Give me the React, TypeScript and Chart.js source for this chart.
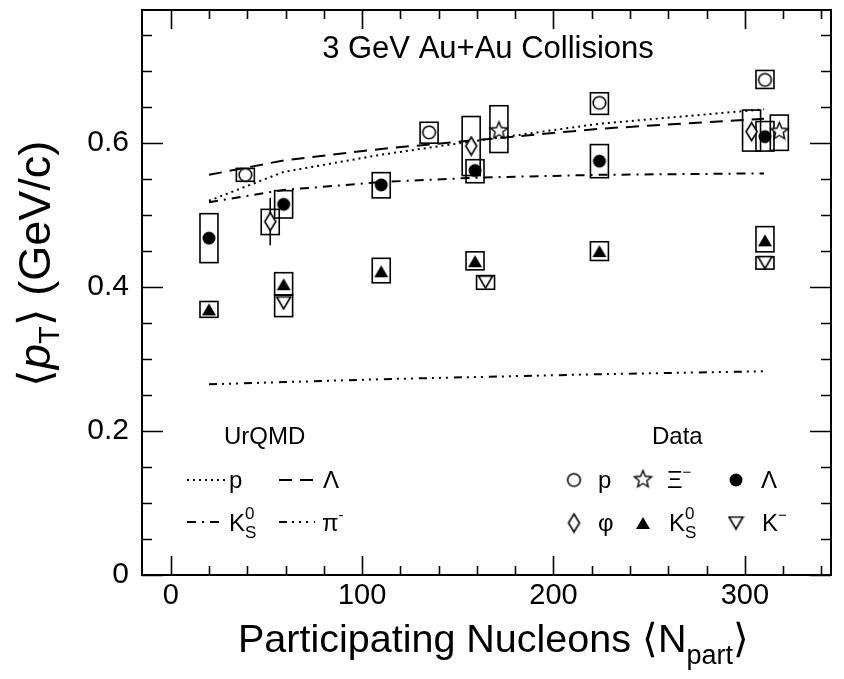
import React, { useEffect, useRef } from 'react';
import { Chart, registerables } from 'chart.js';
Chart.register(...registerables);

// ---------- axes ----------
const X_MIN = -15;
const X_MAX = 345;
const Y_MIN = 0;
const Y_MAX = 0.785;
const X_TICKS = [0, 100, 200, 300];
const Y_TICKS = [0, 0.2, 0.4, 0.6];
const X_MINOR_STEP = 20;
const Y_MINOR_STEP = 0.05;

// ---------- UrQMD curves ----------
const URQMD_NPART = [20, 59, 110, 159, 224, 310];
const URQMD_P = [0.52, 0.56, 0.584, 0.603, 0.627, 0.647];
const URQMD_LAMBDA = [0.556, 0.576, 0.592, 0.604, 0.62, 0.634];
const URQMD_K0S = [0.518, 0.535, 0.546, 0.552, 0.556, 0.558];
const URQMD_PIM = [0.265, 0.268, 0.272, 0.275, 0.279, 0.283];

// ---------- data ----------
const P_NPART = [39, 135, 224, 310.5];
const P_MEAN = [0.556, 0.615, 0.656, 0.688];
const P_SYS_LO = [0.547, 0.6, 0.64, 0.676];
const P_SYS_HI = [0.565, 0.629, 0.67, 0.701];

const LAMBDA_NPART = [20, 59, 110, 159, 224, 310.5];
const LAMBDA_MEAN = [0.468, 0.515, 0.542, 0.562, 0.575, 0.609];
const LAMBDA_SYS_LO = [0.434, 0.496, 0.524, 0.545, 0.552, 0.589];
const LAMBDA_SYS_HI = [0.502, 0.534, 0.559, 0.577, 0.598, 0.63];

const K0S_NPART = [20, 59, 110, 159, 224, 310.5];
const K0S_MEAN = [0.369, 0.404, 0.422, 0.436, 0.45, 0.465];
const K0S_SYS_LO = [0.358, 0.389, 0.406, 0.424, 0.437, 0.449];
const K0S_SYS_HI = [0.38, 0.42, 0.44, 0.449, 0.463, 0.484];

const KM_NPART = [59, 164.5, 310.5];
const KM_MEAN = [0.378, 0.407, 0.434];
const KM_SYS_LO = [0.359, 0.397, 0.425];
const KM_SYS_HI = [0.389, 0.416, 0.442];

const PHI_NPART = [52, 157, 303.5];
const PHI_MEAN = [0.491, 0.596, 0.616];
const PHI_SYS_LO = [0.473, 0.555, 0.589];
const PHI_SYS_HI = [0.508, 0.637, 0.646];
const PHI_STAT_LO = [0.458, 0.588, 0.609];
const PHI_STAT_HI = [0.524, 0.604, 0.623];

const XI_NPART = [171.5, 318];
const XI_MEAN = [0.618, 0.617];
const XI_SYS_LO = [0.587, 0.59];
const XI_SYS_HI = [0.652, 0.639];

const TITLE = '3 GeV Au+Au Collisions';

const FONT = '"Liberation Sans", Arial, Helvetica, sans-serif';

// ---------- dash styles ----------
const DASH_P = [2, 4];
const DASH_LAMBDA = [13, 8];
const DASH_K0S = [9, 6, 2, 6];
const DASH_PIM = [8, 5, 2, 5, 2, 5, 2, 6];

// ---------- marker images ----------
function makeCanvas(w: number, h: number, draw: (c: CanvasRenderingContext2D) => void) {
  const c = document.createElement('canvas');
  c.width = w;
  c.height = h;
  const ctx = c.getContext('2d')!;
  ctx.lineJoin = 'miter';
  draw(ctx);
  return c;
}

function markers() {
  const openCircle = makeCanvas(17, 17, (c) => {
    c.beginPath();
    c.arc(8.5, 8.5, 6.3, 0, Math.PI * 2);
    c.fillStyle = '#fff';
    c.fill();
    c.lineWidth = 1.6;
    c.strokeStyle = '#000';
    c.stroke();
  });
  const filledCircle = makeCanvas(16, 16, (c) => {
    c.beginPath();
    c.arc(8, 8, 6.5, 0, Math.PI * 2);
    c.fillStyle = '#000';
    c.fill();
  });
  const diamond = makeCanvas(15, 21, (c) => {
    c.beginPath();
    c.moveTo(7.5, 1.5);
    c.lineTo(13, 10.5);
    c.lineTo(7.5, 19.5);
    c.lineTo(2, 10.5);
    c.closePath();
    c.fillStyle = '#fff';
    c.fill();
    c.lineWidth = 1.6;
    c.strokeStyle = '#000';
    c.stroke();
  });
  const triangle = makeCanvas(16, 14, (c) => {
    c.beginPath();
    c.moveTo(8, 1);
    c.lineTo(15, 13);
    c.lineTo(1, 13);
    c.closePath();
    c.fillStyle = '#000';
    c.fill();
  });
  const invTriangle = makeCanvas(17, 15, (c) => {
    c.beginPath();
    c.moveTo(1.5, 1.5);
    c.lineTo(15.5, 1.5);
    c.lineTo(8.5, 13.5);
    c.closePath();
    c.fillStyle = '#fff';
    c.fill();
    c.lineWidth = 1.6;
    c.strokeStyle = '#000';
    c.stroke();
  });
  const star = makeCanvas(21, 21, (c) => {
    c.beginPath();
    for (let i = 0; i < 10; i++) {
      const r = i % 2 === 0 ? 9 : 4;
      const a = -Math.PI / 2 + (i * Math.PI) / 5;
      const px = 10.5 + r * Math.cos(a);
      const py = 11 + r * Math.sin(a);
      if (i === 0) c.moveTo(px, py);
      else c.lineTo(px, py);
    }
    c.closePath();
    c.fillStyle = '#fff';
    c.fill();
    c.lineWidth = 1.4;
    c.strokeStyle = '#000';
    c.stroke();
  });
  return { openCircle, filledCircle, diamond, triangle, invTriangle, star };
}

const pts = (xs: number[], ys: number[]) => xs.map((x, i) => ({ x, y: ys[i] }));

type Part = { t: string; size: number; dy?: number; italic?: boolean; stackNext?: boolean };

function drawRich(ctx: CanvasRenderingContext2D, x: number, y: number, parts: Part[]) {
  let cx = x;
  let stackStart = -1;
  for (const p of parts) {
    ctx.font = `${p.italic ? 'italic ' : ''}${p.size}px ${FONT}`;
    const startX = stackStart >= 0 ? stackStart : cx;
    ctx.fillText(p.t, startX, y + (p.dy || 0));
    const w = ctx.measureText(p.t).width;
    if (p.stackNext) {
      stackStart = startX;
      cx = Math.max(cx, startX + w);
    } else {
      cx = Math.max(cx, startX + w);
      stackStart = -1;
    }
  }
  return cx;
}

function lineSample(ctx: CanvasRenderingContext2D, x0: number, x1: number, y: number, dash: number[]) {
  ctx.save();
  ctx.setLineDash(dash);
  ctx.lineWidth = 2;
  ctx.strokeStyle = '#000';
  ctx.beginPath();
  ctx.moveTo(x0, y);
  ctx.lineTo(x1, y);
  ctx.stroke();
  ctx.restore();
}

export default function App() {
  const ref = useRef<HTMLCanvasElement>(null);

  useEffect(() => {
    const m = markers();

    const SYS = [
      { x: P_NPART, lo: P_SYS_LO, hi: P_SYS_HI },
      { x: LAMBDA_NPART, lo: LAMBDA_SYS_LO, hi: LAMBDA_SYS_HI },
      { x: K0S_NPART, lo: K0S_SYS_LO, hi: K0S_SYS_HI },
      { x: KM_NPART, lo: KM_SYS_LO, hi: KM_SYS_HI },
      { x: PHI_NPART, lo: PHI_SYS_LO, hi: PHI_SYS_HI },
      { x: XI_NPART, lo: XI_SYS_LO, hi: XI_SYS_HI },
    ];
    const BOX_HALF_W = 4.7;

    const bgPlugin = {
      id: 'bg',
      beforeDraw(chart: any) {
        const c = chart.ctx;
        c.save();
        c.fillStyle = '#fff';
        c.fillRect(0, 0, chart.width, chart.height);
        c.restore();
      },
    };

    const boxPlugin = {
      id: 'sysboxes',
      beforeDatasetsDraw(chart: any) {
        const c = chart.ctx;
        const xs = chart.scales.x;
        const ys = chart.scales.y;
        c.save();
        c.strokeStyle = '#000';
        c.lineWidth = 1.6;
        for (const s of SYS) {
          s.x.forEach((xv, i) => {
            const l = xs.getPixelForValue(xv - BOX_HALF_W);
            const r = xs.getPixelForValue(xv + BOX_HALF_W);
            const t = ys.getPixelForValue(s.hi[i]);
            const b = ys.getPixelForValue(s.lo[i]);
            c.strokeRect(l, t, r - l, b - t);
          });
        }
        // statistical error bars for phi
        c.lineWidth = 1.6;
        PHI_NPART.forEach((xv, i) => {
          const px = xs.getPixelForValue(xv);
          c.beginPath();
          c.moveTo(px, ys.getPixelForValue(PHI_STAT_LO[i]));
          c.lineTo(px, ys.getPixelForValue(PHI_STAT_HI[i]));
          c.stroke();
        });
        c.restore();
      },
    };

    const framePlugin = {
      id: 'frame',
      afterDraw(chart: any) {
        const c = chart.ctx;
        const a = chart.chartArea;
        const xs = chart.scales.x;
        const ys = chart.scales.y;
        c.save();
        c.strokeStyle = '#000';
        c.lineWidth = 1.6;
        // x ticks
        const x0 = Math.ceil(X_MIN / X_MINOR_STEP) * X_MINOR_STEP;
        for (let v = x0; v <= X_MAX + 1e-9; v += X_MINOR_STEP) {
          const major = Math.abs(v % 100) < 1e-6;
          const len = major ? 19 : 9;
          const px = Math.round(xs.getPixelForValue(v)) + 0.5;
          c.beginPath();
          c.moveTo(px, a.bottom);
          c.lineTo(px, a.bottom - len);
          c.moveTo(px, a.top);
          c.lineTo(px, a.top + len);
          c.stroke();
        }
        // y ticks
        for (let k = 0; k * Y_MINOR_STEP <= Y_MAX + 1e-9; k++) {
          const v = k * Y_MINOR_STEP;
          const major = k % 4 === 0;
          const len = major ? 21 : 10;
          const py = Math.round(ys.getPixelForValue(v)) + 0.5;
          c.beginPath();
          c.moveTo(a.left, py);
          c.lineTo(a.left + len, py);
          c.moveTo(a.right, py);
          c.lineTo(a.right - len, py);
          c.stroke();
        }
        // frame
        c.lineWidth = 2;
        c.strokeRect(a.left, a.top, a.right - a.left, a.bottom - a.top);

        c.fillStyle = '#000';
        c.textBaseline = 'alphabetic';
        c.textAlign = 'left';
        // title
        c.font = `31px ${FONT}`;
        const tw = c.measureText(TITLE).width;
        c.fillText(TITLE, 488 - tw / 2, 58);

        // x axis title
        drawRich(c, 238, 652, [
          { t: 'Participating Nucleons \u27E8N', size: 39.5 },
          { t: 'part', size: 27, dy: 12 },
          { t: '\u27E9', size: 39.5 },
        ]);

        // y axis title
        c.save();
        c.translate(50, 387);
        c.rotate(-Math.PI / 2);
        drawRich(c, 0, 0, [
          { t: '\u27E8', size: 45 },
          { t: 'p', size: 45, italic: true },
          { t: 'T', size: 29, dy: 9 },
          { t: '\u27E9 (GeV/c)', size: 45 },
        ]);
        c.restore();

        // legend: UrQMD
        c.font = `24px ${FONT}`;
        c.fillText('UrQMD', 224, 444);
        lineSample(c, 187, 225, 480, DASH_P);
        drawRich(c, 229, 488, [{ t: 'p', size: 24 }]);
        lineSample(c, 279, 315, 480, DASH_LAMBDA);
        drawRich(c, 323, 488, [{ t: '\u039B', size: 24 }]);
        lineSample(c, 187, 225, 522, DASH_K0S);
        drawRich(c, 229, 531, [
          { t: 'K', size: 24 },
          { t: '0', size: 17, dy: -12, stackNext: true },
          { t: 'S', size: 17, dy: 7 },
        ]);
        lineSample(c, 279, 315, 522, DASH_PIM);
        drawRich(c, 322, 531, [
          { t: '\u03C0', size: 24 },
          { t: '-', size: 15, dy: -11 },
        ]);

        // legend: Data
        c.font = `24px ${FONT}`;
        c.fillText('Data', 652, 444);
        const img = (im: HTMLCanvasElement, cx: number, cy: number) =>
          c.drawImage(im, cx - im.width / 2, cy - im.height / 2);
        img(m.openCircle, 574, 480);
        drawRich(c, 598, 488, [{ t: 'p', size: 24 }]);
        img(m.star, 643, 479);
        drawRich(c, 667, 488, [
          { t: '\u039E', size: 24 },
          { t: '\u2212', size: 15, dy: -11 },
        ]);
        img(m.filledCircle, 736, 480);
        drawRich(c, 761, 488, [{ t: '\u039B', size: 24 }]);

        img(m.diamond, 574, 523);
        drawRich(c, 598, 531, [{ t: '\u03C6', size: 24 }]);
        img(m.triangle, 643, 523);
        drawRich(c, 669, 531, [
          { t: 'K', size: 24 },
          { t: '0', size: 17, dy: -12, stackNext: true },
          { t: 'S', size: 17, dy: 7 },
        ]);
        img(m.invTriangle, 736, 523);
        drawRich(c, 762, 531, [
          { t: 'K', size: 24 },
          { t: '\u2212', size: 15, dy: -11 },
        ]);
        c.restore();
      },
    };

    const markerDs = (label: string, xs: number[], ys: number[], im: HTMLCanvasElement) => ({
      label,
      data: pts(xs, ys),
      pointStyle: im,
      pointRadius: 8,
      showLine: false,
      order: 0,
    });
    const lineDs = (label: string, ys: number[], dash: number[]) => ({
      label,
      data: pts(URQMD_NPART, ys),
      showLine: true,
      pointRadius: 0,
      borderColor: '#000',
      borderWidth: 2,
      borderDash: dash,
      tension: 0,
      fill: false,
      order: 5,
    });

    const chart = new Chart(ref.current!, {
      type: 'scatter',
      data: {
        datasets: [
          markerDs('p', P_NPART, P_MEAN, m.openCircle),
          markerDs('\u039B', LAMBDA_NPART, LAMBDA_MEAN, m.filledCircle),
          markerDs('K0S', K0S_NPART, K0S_MEAN, m.triangle),
          markerDs('K-', KM_NPART, KM_MEAN, m.invTriangle),
          markerDs('\u03C6', PHI_NPART, PHI_MEAN, m.diamond),
          markerDs('\u039E-', XI_NPART, XI_MEAN, m.star),
          lineDs('UrQMD p', URQMD_P, DASH_P),
          lineDs('UrQMD \u039B', URQMD_LAMBDA, DASH_LAMBDA),
          lineDs('UrQMD K0S', URQMD_K0S, DASH_K0S),
          lineDs('UrQMD \u03C0-', URQMD_PIM, DASH_PIM),
        ] as any,
      },
      options: {
        animation: false,
        responsive: false,
        events: [],
        layout: { padding: { top: 10, right: 13, left: 0, bottom: 0 } },
        plugins: { legend: { display: false }, tooltip: { enabled: false } },
        scales: {
          x: {
            type: 'linear',
            min: X_MIN,
            max: X_MAX,
            grid: { display: false },
            border: { display: false },
            afterBuildTicks: (s: any) => {
              s.ticks = X_TICKS.map((v) => ({ value: v }));
            },
            afterFit: (s: any) => {
              s.height = 104;
              s.paddingLeft = 0;
              s.paddingRight = 0;
            },
            ticks: {
              color: '#000',
              font: { family: FONT, size: 29 },
              padding: -4,
              maxRotation: 0,
              autoSkip: false,
              callback: (v: any) => String(v),
            },
          },
          y: {
            type: 'linear',
            min: Y_MIN,
            max: Y_MAX,
            grid: { display: false },
            border: { display: false },
            afterBuildTicks: (s: any) => {
              s.ticks = Y_TICKS.map((v) => ({ value: v }));
            },
            afterFit: (s: any) => {
              s.width = 142;
              s.paddingTop = 0;
              s.paddingBottom = 0;
            },
            ticks: {
              color: '#000',
              font: { family: FONT, size: 30 },
              padding: 5,
              autoSkip: false,
              callback: (v: any) => (v === 0 ? '0' : Number(v).toFixed(1)),
            },
          },
        },
      } as any,
      plugins: [bgPlugin, boxPlugin, framePlugin],
    });
    return () => chart.destroy();
  }, []);

  return (
    <div style={{ position: 'absolute', left: 0, top: 0, width: 844, height: 679, background: '#fff' }}>
      <canvas ref={ref} width={844} height={679} style={{ display: 'block' }} />
    </div>
  );
}
